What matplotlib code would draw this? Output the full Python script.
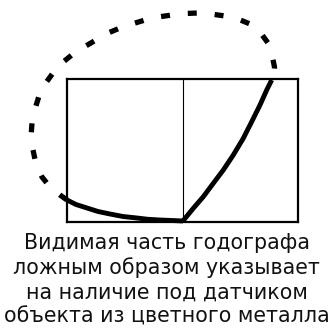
import matplotlib
matplotlib.use("Agg")
import matplotlib.pyplot as plt

# solid part of the hodograph (inside the frame), frame units: x -115.5..115.5, y 0..143
solid_left_x = [-115.5, -106.5, -95.5, -84.5, -72.5, -59.5, -45.5, -34.5, -22.5, -10.5, 0.5]
solid_left_y = [22, 17.5, 14, 10.5, 8, 5.5, 4, 2.7, 2, 1.5, 1]
solid_right_x = [0.8, 10.8, 20.8, 30.8, 40.8, 50.8, 60.8, 69.2, 77.5, 84.2, 89.2]
solid_right_y = [1.5, 13.7, 25.3, 38.7, 52, 67, 83.7, 100.3, 117, 132, 142]

# dashed (invisible) part, going outside the frame
dash_x = [-115.5, -122.5, -132.5, -140.5, -146.5, -149.5, -151.5, -150.5, -147.5,
          -143.5, -137.5, -129.5, -120.5, -109.5, -98.5, -86.5, -74.5, -62.5, -50.5,
          -37.5, -24.5, -10.5, 2.5, 15.5, 28.5, 42.5, 55.5, 67.5, 77.5, 85.5, 89.5,
          92, 91.5, 89.2]
dash_y = [22, 27, 35, 45, 58, 72, 85, 99, 113, 126, 138, 149, 159, 168, 175, 182,
          189, 194, 198, 202, 205, 207, 208.5, 209, 208, 206, 203, 198, 190, 179,
          167, 155, 148, 142]

caption = ["Видимая часть годографа",
           "ложным образом указывает",
           "на наличие под датчиком",
           "объекта из цветного металла"]

W, H = 333, 328
fig = plt.figure(figsize=(W / 100, H / 100), dpi=100)
ax = fig.add_axes([67 / W, 1 - 222 / H, 231 / W, 143 / H])
ax.set_xlim(-115.5, 115.5)
ax.set_ylim(0, 143)
ax.set_xticks([])
ax.set_yticks([])
for s in ax.spines.values():
    s.set_linewidth(1.6)
ax.axvline(0, color="black", lw=0.8)

ax.plot(solid_left_x, solid_left_y, color="black", lw=3.5, clip_on=False,
        solid_capstyle="butt", solid_joinstyle="round")
ax.plot(solid_right_x, solid_right_y, color="black", lw=3.5, clip_on=False,
        solid_capstyle="butt", solid_joinstyle="round")
ax.plot(dash_x, dash_y, color="black", lw=3.8, clip_on=False,
        linestyle=(0, (1.7, 3.4)))

baselines = [249, 274, 299, 323]
for line, b in zip(caption, baselines):
    fig.text(0.5, 1 - b / H, line, ha="center", va="baseline",
             fontsize=14.8, family="DejaVu Sans", color="#111111")

fig.savefig("out.png", dpi=100)
